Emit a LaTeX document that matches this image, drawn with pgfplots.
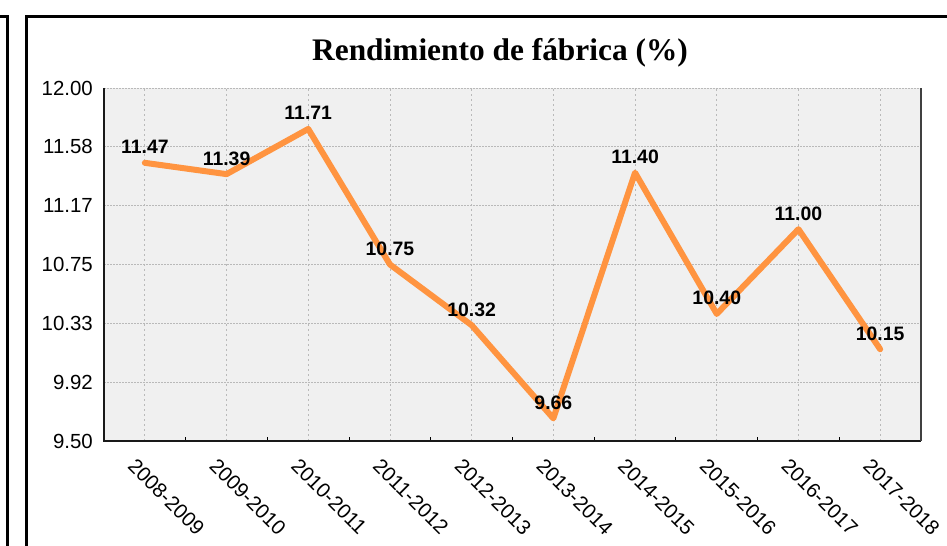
\documentclass[border=0pt]{standalone}
\usepackage{pgfplots}
\pgfplotsset{compat=1.18}
\usepackage{fontspec}
\setmainfont{Liberation Sans}
\newfontfamily\titlefont{Liberation Serif}
\definecolor{lineor}{RGB}{255,148,64}
\definecolor{bgg}{RGB}{240,240,240}
\definecolor{gridg}{RGB}{185,185,185}
\begin{document}
\begin{tikzpicture}
\path[use as bounding box] (0bp,0bp) rectangle (947bp,546bp);
\draw[line width=3bp, line join=miter] (0bp,529bp) -- (7.3bp,529bp) -- (7.3bp,0bp);
\draw[line width=3bp, line join=miter] (26.5bp,0bp) -- (26.5bp,529bp) -- (947bp,529bp);
\node[font=\titlefont\bfseries\fontsize{31.5}{36}\selectfont, anchor=base, inner sep=0pt] at (500bp,485bp) {Rendimiento de fábrica (\%)};
\begin{axis}[
  at={(104bp,105bp)}, anchor=south west,
  scale only axis, width=817bp, height=353bp,
  xmin=-0.5, xmax=9.5, ymin=9.5, ymax=12,
  xtick={0,...,9},
  xticklabels={2008-2009,2009-2010,2010-2011,2011-2012,2012-2013,2013-2014,2014-2015,2015-2016,2016-2017,2017-2018},
  minor x tick num=1,
  ytick={9.5,9.916667,10.333333,10.75,11.166667,11.583333,12},
  yticklabels={9.50,9.92,10.33,10.75,11.17,11.58,12.00},
  xtick pos=lower, ytick pos=left,
  axis background/.style={fill=bgg},
  axis line style={draw=none},
  grid=major,
  x grid style={gridg, line width=0.8bp, dash pattern=on 2bp off 3bp},
  y grid style={gridg, line width=0.8bp, dash pattern=on 1.5bp off 1.5bp},
  major tick length=0pt, minor tick length=4bp, tick align=inside,
  tick style={black, line width=1bp},
  /pgf/number format/assume math mode=true,
  yticklabel style={font=\fontsize{20.5}{24}\selectfont, inner sep=0pt, anchor=east, xshift=-11bp},
  xticklabel style={font=\fontsize{20.5}{24}\selectfont, inner sep=0pt, xshift=-8bp, yshift=-16bp, rotate=-45, anchor=north west},
  clip=false,
  nodes near coords, point meta=explicit symbolic,
  every node near coord/.append style={font=\bfseries\fontsize{19.5}{23}\selectfont, anchor=base, yshift=9bp, inner sep=0pt, text=black},
]
\addplot[lineor, line width=6bp, line cap=round, line join=round] coordinates {
  (0,11.47) [11.47]
  (1,11.39) [11.39]
  (2,11.71) [11.71]
  (3,10.75) [10.75]
  (4,10.32) [10.32]
  (5,9.66) [9.66]
  (6,11.40) [11.40]
  (7,10.40) [10.40]
  (8,11.00) [11.00]
  (9,10.15) [10.15]
};
\draw[line width=2bp, black!90] (rel axis cs:0,1) -- (rel axis cs:0,0) -- (rel axis cs:1,0);
\draw[line width=1.5bp, black!75] (rel axis cs:1,0) -- (rel axis cs:1,1);
\end{axis}
\end{tikzpicture}
\end{document}
